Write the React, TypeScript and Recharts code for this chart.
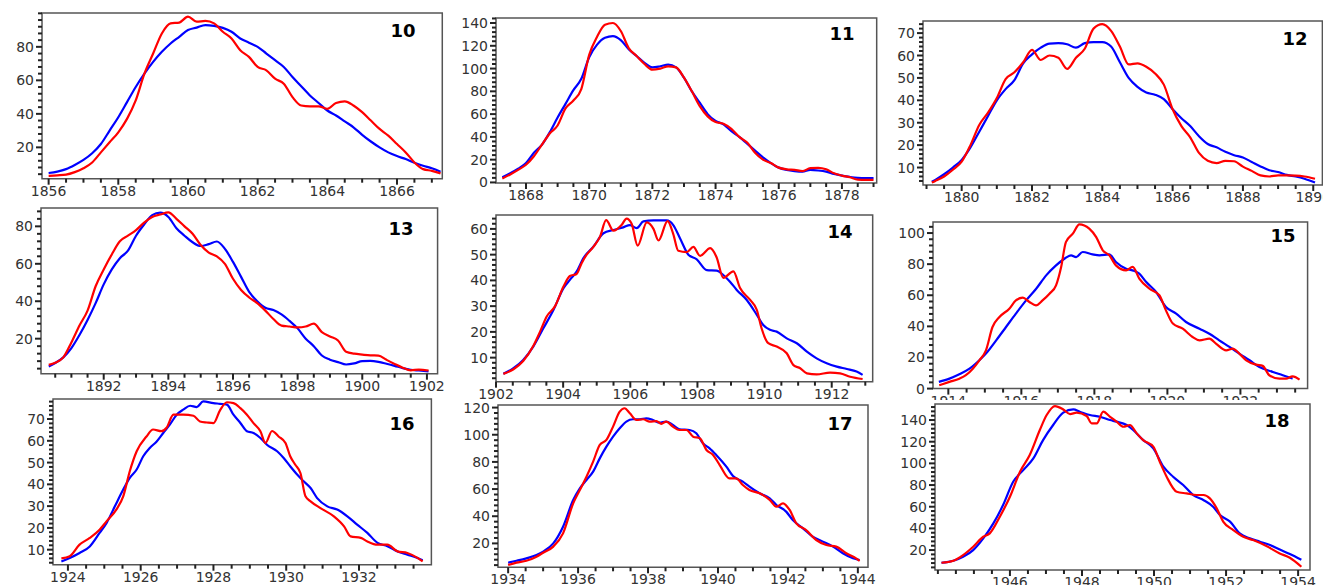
import React from 'react';
import { LineChart, Line, XAxis, YAxis, ReferenceArea } from 'recharts';

// ---------- Panel 10 ----------
const p10Years = [1856, 1856.25, 1856.5, 1856.75, 1857, 1857.25, 1857.5, 1857.75, 1858, 1858.25, 1858.5, 1858.75, 1859, 1859.25, 1859.5, 1859.75, 1860, 1860.25, 1860.5, 1860.75, 1861, 1861.25, 1861.5, 1861.75, 1862, 1862.25, 1862.5, 1862.75, 1863, 1863.25, 1863.5, 1863.75, 1864, 1864.25, 1864.5, 1864.75, 1865, 1865.25, 1865.5, 1865.75, 1866, 1866.25, 1866.5, 1866.75, 1867, 1867.25];
const p10Red = [3, 3.3, 3.7, 5.2, 7.5, 11, 17, 23, 29, 37, 48, 64, 76, 88, 94, 94.5, 98, 95, 95.5, 94, 89, 85, 78, 74, 68, 66, 61, 58, 50, 45, 44.5, 44.5, 43, 46.5, 47.5, 45, 41, 36, 31, 27, 22, 17, 11, 7, 6, 4.5];
const p10Blue = [4.7, 5.5, 7, 9.5, 12.5, 16.5, 22, 30, 38, 47, 56, 64, 71, 77, 82, 86, 90, 91.5, 93, 92.5, 91.3, 89, 85, 82.5, 80, 76, 72, 68, 62, 56.5, 51, 46.5, 42, 39, 35.5, 32, 27.5, 23.5, 20, 17, 14.8, 13, 10.8, 9, 7.5, 5.5];

// ---------- Panel 11 ----------
const p11Years = [1867.25, 1867.5, 1867.75, 1868, 1868.25, 1868.5, 1868.75, 1869, 1869.25, 1869.5, 1869.75, 1870, 1870.25, 1870.5, 1870.75, 1871, 1871.25, 1871.5, 1871.75, 1872, 1872.25, 1872.5, 1872.75, 1873, 1873.25, 1873.5, 1873.75, 1874, 1874.25, 1874.5, 1874.75, 1875, 1875.25, 1875.5, 1875.75, 1876, 1876.25, 1876.5, 1876.75, 1877, 1877.25, 1877.5, 1877.75, 1878, 1878.25, 1878.5, 1878.75, 1879];
const p11Red = [3.5, 7, 11, 15.5, 23, 33, 43, 50, 65, 72, 82, 112, 128, 138.5, 140, 133, 118, 111, 104, 99, 100, 102, 101, 92, 80, 67, 58, 53, 51.5, 47, 40, 35, 26, 20, 17, 13, 11.5, 11, 10, 12.5, 12.8, 11.5, 8, 6, 4.5, 2.5, 2.3, 2.3];
const p11Blue = [4.5, 8, 12, 17, 26, 33, 44, 57, 69, 81, 91, 110, 121, 127, 128.5, 125, 117, 111, 105, 101, 102, 103.5, 101, 92, 80, 70, 60, 54, 51, 45, 40, 34, 28, 22, 17, 13, 11, 10, 9.5, 11, 10.5, 9.5, 7.5, 6, 4.8, 4, 3.8, 3.8];

// ---------- Panel 12 ----------
const p12Years = [1879.15, 1879.25, 1879.5, 1879.75, 1880, 1880.25, 1880.5, 1880.75, 1881, 1881.25, 1881.5, 1881.75, 1882, 1882.25, 1882.5, 1882.75, 1883, 1883.25, 1883.5, 1883.75, 1884, 1884.25, 1884.5, 1884.75, 1885, 1885.25, 1885.5, 1885.75, 1886, 1886.25, 1886.5, 1886.75, 1887, 1887.25, 1887.5, 1887.75, 1888, 1888.25, 1888.5, 1888.75, 1889, 1889.25, 1889.5, 1889.75, 1890.05];
const p12Red = [3.3, 4, 6, 9, 12.6, 20, 29, 34.5, 41, 49.5, 52.5, 57, 62.5, 58, 60, 59, 54, 59, 63, 72, 74, 71, 64, 56, 56.5, 55, 52, 47, 36, 28.5, 23.5, 16.5, 13, 12, 13, 12.8, 10.4, 8.5, 6.5, 6, 6.5, 6.5, 6.4, 6, 5];
const p12Blue = [3.7, 4.5, 7, 10, 13.4, 19, 26, 33, 40, 45, 49, 56.5, 60.5, 63.5, 65.3, 65.5, 65, 63.5, 65.5, 66, 66, 64, 57, 50, 46, 43.5, 42.5, 40.5, 36, 32, 28.5, 24, 20.5, 19, 17, 15.5, 14.5, 12.5, 10.5, 8.8, 8, 6.7, 6, 5, 3.3];

// ---------- Panel 13 ----------
const p13Years = [1890.3, 1890.5, 1890.75, 1891, 1891.25, 1891.5, 1891.75, 1892, 1892.25, 1892.5, 1892.75, 1893, 1893.25, 1893.5, 1893.75, 1894, 1894.25, 1894.5, 1894.75, 1895, 1895.25, 1895.5, 1895.75, 1896, 1896.25, 1896.5, 1896.75, 1897, 1897.25, 1897.5, 1897.75, 1898, 1898.25, 1898.5, 1898.75, 1899, 1899.25, 1899.5, 1899.75, 1900, 1900.25, 1900.5, 1900.75, 1901, 1901.25, 1901.5, 1901.75, 1902.05];
const p13Red = [6, 7.2, 10, 18, 27, 35, 48, 57, 65, 72, 75, 78, 82, 85, 86.3, 87.5, 84, 80, 76, 70, 66, 64, 60, 52, 46, 42, 39, 35, 30.5, 27, 26.5, 26, 26.5, 28, 23.5, 21.2, 19, 13, 12, 11.5, 11.1, 11, 8.7, 6.5, 4.5, 3.1, 3.5, 3];
const p13Blue = [5.2, 7, 10, 15, 22, 30, 39, 49, 57, 63, 67, 75, 81, 86, 87.3, 85, 79, 75, 71.5, 69.5, 70.5, 71.9, 68, 61, 53, 45, 40, 36.5, 35.3, 33, 29.5, 25.5, 20, 16, 11, 8.8, 7.5, 6.2, 6.8, 8, 8.1, 7.6, 6.6, 5.5, 4.3, 3.4, 3, 2.5];

// ---------- Panel 14 ----------
const p14RedYears = [1902.22, 1902.52, 1902.81, 1903.11, 1903.31, 1903.51, 1903.76, 1904.01, 1904.2, 1904.4, 1904.55, 1904.7, 1904.9, 1905.1, 1905.28, 1905.5, 1905.74, 1905.89, 1906.04, 1906.22, 1906.49, 1906.69, 1906.84, 1907.11, 1907.28, 1907.43, 1907.68, 1907.88, 1908.08, 1908.38, 1908.57, 1908.77, 1909.07, 1909.27, 1909.57, 1909.77, 1909.91, 1910.11, 1910.36, 1910.66, 1910.86, 1911.06, 1911.26, 1911.55, 1911.95, 1912.25, 1912.55, 1912.92];
const p14Red = [3.7, 5.5, 8.7, 14.5, 20, 26, 30, 37.6, 41.7, 42.5, 46.7, 50, 53, 57, 63.4, 59.3, 61.5, 64, 62, 53.5, 62.5, 60, 55.5, 63, 58, 51.5, 51, 53, 49.5, 52.5, 49, 41, 43.5, 37, 32.4, 28.5, 21.4, 15.6, 14.3, 11.7, 7.1, 5.9, 3.9, 3.5, 4.2, 3.9, 2.6, 1.7];
const p14BlueYears = [1902.22, 1902.52, 1902.81, 1903.11, 1903.41, 1903.71, 1904.01, 1904.2, 1904.4, 1904.6, 1904.9, 1905.2, 1905.5, 1905.79, 1905.99, 1906.19, 1906.39, 1906.69, 1907.08, 1907.28, 1907.48, 1907.73, 1907.98, 1908.28, 1908.57, 1908.77, 1908.97, 1909.17, 1909.47, 1909.77, 1909.96, 1910.16, 1910.36, 1910.66, 1910.96, 1911.26, 1911.55, 1911.85, 1912.15, 1912.45, 1912.74, 1912.92];
const p14Blue = [3.7, 5.9, 9.1, 14.3, 21.4, 28.5, 37, 40.2, 43.4, 48.6, 53.1, 58.3, 59.6, 60.6, 61.5, 60.3, 62.9, 63.3, 63.3, 61.5, 56.4, 50, 48.2, 44, 43.8, 42.1, 39.5, 36.3, 32.4, 26.6, 22.7, 20.8, 20.1, 17.5, 15.6, 12.3, 9.7, 7.8, 6.5, 5.6, 4.6, 3.3];

// ---------- Panel 15 ----------
const p15RedYears = [1913.75, 1914.03, 1914.3, 1914.48, 1914.67, 1914.85, 1915.03, 1915.21, 1915.4, 1915.67, 1915.85, 1916.04, 1916.22, 1916.4, 1916.58, 1916.77, 1916.95, 1917.09, 1917.22, 1917.41, 1917.59, 1917.86, 1918.05, 1918.23, 1918.41, 1918.59, 1918.87, 1919.05, 1919.23, 1919.51, 1919.78, 1919.96, 1920.15, 1920.42, 1920.69, 1920.88, 1921.15, 1921.33, 1921.61, 1921.79, 1921.97, 1922.16, 1922.43, 1922.61, 1922.79, 1923.07, 1923.25, 1923.43, 1923.62];
const p15Red = [2.1, 4.3, 6.4, 8.6, 12.8, 18.2, 24.6, 39.6, 46, 51.4, 56.7, 58.5, 55.7, 53.5, 56.7, 61, 66.4, 78.2, 94.2, 99.6, 105.6, 102.8, 97.4, 88.9, 85.7, 79.2, 76, 78.2, 70.7, 64.2, 60, 50.3, 41.8, 38.5, 33.2, 31, 32.1, 28.9, 24.6, 25.7, 22.5, 18.2, 15.4, 14.6, 8.6, 6.4, 6.4, 7.9, 5.8];
const p15BlueYears = [1913.74, 1914.03, 1914.3, 1914.58, 1914.85, 1915.03, 1915.31, 1915.58, 1915.85, 1916.13, 1916.4, 1916.68, 1916.95, 1917.18, 1917.36, 1917.5, 1917.68, 1917.95, 1918.14, 1918.41, 1918.59, 1918.87, 1919.05, 1919.23, 1919.42, 1919.69, 1919.96, 1920.24, 1920.51, 1920.88, 1921.15, 1921.42, 1921.7, 1921.97, 1922.25, 1922.52, 1922.89, 1923.16, 1923.43];
const p15Blue = [4.3, 6.4, 9.2, 12.8, 18.2, 22.5, 31, 39.6, 48.2, 56.7, 64, 72.8, 79.2, 83.5, 85.7, 84.5, 87.8, 86.3, 85.7, 86.3, 81.4, 77.1, 76, 73.9, 68.5, 62.1, 52.5, 48.2, 42.8, 38.5, 35.3, 31, 26.8, 22.5, 18.2, 13.9, 10.7, 8.6, 6.4];

// ---------- Panel 16 ----------
const p16RedYears = [1923.82, 1924.05, 1924.32, 1924.6, 1924.87, 1925.06, 1925.33, 1925.52, 1925.7, 1925.89, 1926.16, 1926.34, 1926.57, 1926.71, 1926.9, 1927.17, 1927.45, 1927.63, 1927.82, 1928, 1928.18, 1928.37, 1928.55, 1928.74, 1928.92, 1929.1, 1929.29, 1929.43, 1929.61, 1929.79, 1929.98, 1930.11, 1930.25, 1930.39, 1930.53, 1930.67, 1930.94, 1931.31, 1931.59, 1931.77, 1932.05, 1932.23, 1932.51, 1932.78, 1933.06, 1933.33, 1933.61, 1933.75];
const p16Red = [6, 7, 12.3, 15.4, 19.2, 23, 28.4, 34.5, 46, 55.2, 62, 65.2, 64.4, 66, 72, 72, 71.5, 68.9, 68.4, 68.1, 74, 77.7, 77.3, 75, 72, 68.1, 64.4, 59, 64.5, 62, 59, 52.9, 49, 45.2, 34.5, 32.2, 29.1, 25.3, 20.7, 16.1, 15.4, 13.8, 12.3, 12.3, 9.2, 8.5, 6.2, 4.6];
const p16BlueYears = [1923.82, 1924.05, 1924.32, 1924.6, 1924.87, 1925.06, 1925.29, 1925.52, 1925.7, 1925.89, 1926.07, 1926.25, 1926.44, 1926.62, 1926.8, 1926.99, 1927.17, 1927.36, 1927.54, 1927.72, 1928, 1928.18, 1928.37, 1928.55, 1928.74, 1928.92, 1929.1, 1929.29, 1929.47, 1929.75, 1929.93, 1930.11, 1930.3, 1930.48, 1930.67, 1930.85, 1931.13, 1931.4, 1931.68, 1931.95, 1932.23, 1932.51, 1932.78, 1933.06, 1933.33, 1933.61, 1933.75];
const p16Blue = [4.6, 6.2, 8.5, 11.5, 17.7, 22.2, 29.9, 37.6, 43, 46.8, 52.9, 56.7, 59.7, 63.6, 67.4, 72, 74.3, 76.1, 75.5, 78.1, 77.3, 77, 76.6, 72, 68.2, 64.4, 63.6, 61.3, 58.2, 55.2, 52.1, 48.3, 44.5, 41.4, 38.3, 33.7, 29.9, 28.4, 25.3, 21.5, 17.7, 13.1, 11.6, 9.2, 7.7, 6.2, 5.1];

// ---------- Panel 17 ----------
const p17RedYears = [1934, 1934.24, 1934.52, 1934.81, 1935, 1935.29, 1935.57, 1935.86, 1936.05, 1936.24, 1936.43, 1936.62, 1936.81, 1937, 1937.19, 1937.33, 1937.48, 1937.67, 1937.86, 1938.05, 1938.24, 1938.38, 1938.52, 1938.71, 1938.9, 1939.1, 1939.29, 1939.48, 1939.67, 1939.86, 1940.05, 1940.33, 1940.52, 1940.71, 1940.9, 1941.19, 1941.48, 1941.67, 1941.86, 1942.05, 1942.24, 1942.52, 1942.81, 1943.1, 1943.38, 1943.67, 1943.95, 1944.05];
const p17Red = [4.1, 5.8, 7.2, 10.2, 13.1, 17.6, 27.4, 49.5, 59.3, 69.1, 80.2, 92.5, 96.2, 106, 117, 119.5, 115.8, 110.9, 111.4, 109.7, 110.1, 108, 109.7, 106, 103.5, 103.5, 98.6, 97.4, 88.8, 85.1, 77.7, 67.9, 67.9, 63, 59.3, 56.9, 52, 47, 49.5, 44.6, 34.8, 29.8, 22.5, 18.8, 17.6, 12.7, 9, 7.2];
const p17BlueYears = [1934, 1934.24, 1934.52, 1934.81, 1935, 1935.29, 1935.57, 1935.86, 1936.05, 1936.24, 1936.43, 1936.62, 1936.81, 1937, 1937.19, 1937.38, 1937.57, 1937.76, 1937.95, 1938.14, 1938.33, 1938.52, 1938.71, 1938.9, 1939.19, 1939.38, 1939.57, 1939.76, 1939.95, 1940.24, 1940.43, 1940.71, 1940.9, 1941.19, 1941.48, 1941.67, 1941.95, 1942.14, 1942.43, 1942.71, 1943, 1943.29, 1943.57, 1943.86, 1944.05];
const p17Blue = [5.8, 7.2, 9, 11.4, 13.9, 20, 32.3, 51.9, 60.5, 66.7, 72.8, 82.6, 91.2, 98.6, 104.8, 109.7, 111.4, 111.4, 112.1, 110.9, 108.9, 109.7, 107.2, 104, 103.5, 101.1, 93.7, 90, 85.1, 76.5, 69.6, 65.5, 61.8, 56.9, 53.2, 48.3, 43.4, 37.2, 31.1, 24.9, 21.3, 17.6, 12.7, 9, 7.7];

// ---------- Panel 18 ----------
const p18RedYears = [1944.1, 1944.43, 1944.7, 1944.98, 1945.26, 1945.44, 1945.72, 1946, 1946.28, 1946.55, 1946.83, 1947.02, 1947.25, 1947.48, 1947.67, 1947.85, 1948.13, 1948.27, 1948.41, 1948.59, 1948.78, 1948.96, 1949.15, 1949.33, 1949.52, 1949.7, 1949.98, 1950.16, 1950.35, 1950.63, 1950.9, 1951.18, 1951.37, 1951.55, 1951.74, 1951.92, 1952.2, 1952.48, 1952.75, 1953.12, 1953.49, 1953.77, 1954.09];
const p18Red = [8.3, 10.2, 15.4, 23.1, 32.3, 35.4, 50.8, 69.2, 92.3, 107.7, 130.8, 144.6, 152.9, 149.8, 145.5, 146.8, 143.7, 136.9, 136.9, 147.7, 143, 138.5, 133.8, 135.4, 127.7, 121.5, 115.4, 101.5, 87.7, 73.8, 72.3, 70.8, 70.8, 67.7, 58.5, 46.2, 38.5, 32.3, 29.2, 23.7, 16.9, 12.9, 4.6];
const p18BlueYears = [1944.1, 1944.43, 1944.7, 1944.98, 1945.26, 1945.54, 1945.81, 1946.09, 1946.37, 1946.65, 1946.92, 1947.2, 1947.48, 1947.76, 1947.94, 1948.22, 1948.5, 1948.78, 1948.96, 1949.24, 1949.42, 1949.7, 1949.98, 1950.26, 1950.53, 1950.81, 1951.09, 1951.37, 1951.64, 1951.83, 1952.11, 1952.38, 1952.66, 1952.94, 1953.22, 1953.49, 1953.77, 1954.09];
const p18Blue = [8.3, 10.2, 13.8, 20, 30.8, 44.6, 61.5, 83, 93.8, 104.6, 121.5, 135.4, 146.8, 149.8, 147.7, 144.6, 143, 140, 138.5, 135.4, 130.8, 121.5, 113.8, 96.9, 87.7, 80, 70.8, 66.2, 60, 52.3, 46.2, 35.4, 30.8, 27.7, 24.6, 20.6, 16.3, 11];

// ---------- Tick labels ----------
const p10XTicks = [1856, 1858, 1860, 1862, 1864, 1866];
const p11XTicks = [1868, 1870, 1872, 1874, 1876, 1878];
const p12XTicks = [1880, 1882, 1884, 1886, 1888, 1890];
const p13XTicks = [1892, 1894, 1896, 1898, 1900, 1902];
const p14XTicks = [1902, 1904, 1906, 1908, 1910, 1912];
const p15XTicks = [1914, 1916, 1918, 1920, 1922];
const p16XTicks = [1924, 1926, 1928, 1930, 1932];
const p17XTicks = [1934, 1936, 1938, 1940, 1942, 1944];
const p18XTicks = [1946, 1948, 1950, 1952, 1954];
const yTicks20to80 = [20, 40, 60, 80];
const yTicks0to140 = [0, 20, 40, 60, 80, 100, 120, 140];
const yTicks10to70 = [10, 20, 30, 40, 50, 60, 70];
const yTicks10to60 = [10, 20, 30, 40, 50, 60];
const yTicks0to100 = [0, 20, 40, 60, 80, 100];
const yTicks20to120 = [20, 40, 60, 80, 100, 120];
const yTicks20to140 = [20, 40, 60, 80, 100, 120, 140];
const panelLabels = ['10', '11', '12', '13', '14', '15', '16', '17', '18'];

type Pt = { x: number; y: number };
const pts = (xs: number[], ys: number[]): Pt[] => xs.map((x, i) => ({ x, y: ys[i] }));

type Panel = {
  label: string;
  box: [number, number, number, number];
  xDomain: [number, number];
  yDomain: [number, number];
  xTicks: number[];
  yTicks: number[];
  yMinor: number;
  red: Pt[];
  blue: Pt[];
  labelPos: [number, number];
  bg?: boolean;
};

const panels: Panel[] = [
  { label: panelLabels[0], box: [41.7, 13.3, 442, 179], xDomain: [1855.81, 1867.3], yDomain: [1.3, 100.2], xTicks: p10XTicks, yTicks: yTicks20to80, yMinor: 4, red: pts(p10Years, p10Red), blue: pts(p10Years, p10Blue), labelPos: [403, 37] },
  { label: panelLabels[1], box: [496, 18.3, 876.7, 183.3], xDomain: [1867.05, 1879.1], yDomain: [-0.5, 144.4], xTicks: p11XTicks, yTicks: yTicks0to140, yMinor: 4, red: pts(p11Years, p11Red), blue: pts(p11Years, p11Blue), labelPos: [842, 39.5] },
  { label: panelLabels[2], box: [923.3, 21, 1322.7, 185], xDomain: [1878.9, 1890.26], yDomain: [2.2, 75.4], xTicks: p12XTicks, yTicks: yTicks10to70, yMinor: 2, red: pts(p12Years, p12Red), blue: pts(p12Years, p12Blue), labelPos: [1295, 44.5] },
  { label: panelLabels[3], box: [40.7, 208.3, 437.3, 374], xDomain: [1890.06, 1902.33], yDomain: [1.3, 89.8], xTicks: p13XTicks, yTicks: yTicks20to80, yMinor: 4, red: pts(p13Years, p13Red), blue: pts(p13Years, p13Blue), labelPos: [401, 234.5] },
  { label: panelLabels[4], box: [496, 215, 872.7, 381.7], xDomain: [1902.0, 1913.22], yDomain: [0.66, 65.4], xTicks: p14XTicks, yTicks: yTicks10to60, yMinor: 2, red: pts(p14RedYears, p14Red), blue: pts(p14BlueYears, p14Blue), labelPos: [840, 238] },
  { label: panelLabels[5], box: [932.7, 221.7, 1307.3, 388.3], xDomain: [1913.58, 1923.84], yDomain: [0, 107.1], xTicks: p15XTicks, yTicks: yTicks0to100, yMinor: 4, red: pts(p15RedYears, p15Red), blue: pts(p15BlueYears, p15Blue), labelPos: [1283, 242] },
  { label: panelLabels[6], box: [53.3, 399.3, 431.7, 565], xDomain: [1923.59, 1933.99], yDomain: [3.1, 79.2], xTicks: p16XTicks, yTicks: yTicks10to70, yMinor: 2, red: pts(p16RedYears, p16Red), blue: pts(p16BlueYears, p16Blue), labelPos: [402, 429.5] },
  { label: panelLabels[7], box: [498.3, 405, 868.3, 567.3], xDomain: [1933.71, 1944.29], yDomain: [2.4, 121.9], xTicks: p17XTicks, yTicks: yTicks20to120, yMinor: 4, red: pts(p17RedYears, p17Red), blue: pts(p17BlueYears, p17Blue), labelPos: [840, 429.5] },
  { label: panelLabels[8], box: [935, 404, 1310, 570], xDomain: [1943.92, 1954.33], yDomain: [1.6, 154.8], xTicks: p18XTicks, yTicks: yTicks20to140, yMinor: 4, red: pts(p18RedYears, p18Red), blue: pts(p18BlueYears, p18Blue), labelPos: [1277, 427], bg: true },
];

const FONT = 'DejaVu Sans';
const ML = 50, MT = 4, MR = 30, MB = 26;
const MAJOR_LEN = 6, MINOR_LEN = 4;
const TICK_COLOR = '#222';
const TEXT_COLOR = '#333';
const FRAME_COLOR = '#555';

const isIn = (arr: number[], v: number) => arr.some((m) => Math.abs(m - v) < 1e-6);

const minorRange = (d: [number, number], step: number) => {
  const out: number[] = [];
  const k0 = Math.ceil(d[0] / step - 1e-9);
  const k1 = Math.floor(d[1] / step + 1e-9);
  for (let k = k0; k <= k1; k++) out.push(Math.round(k * step * 1000) / 1000);
  return out;
};

const makeXTick = (majors: number[]) => (props: any) => {
  const x = Number(props.x);
  const y = Number(props.y);
  const v = Number(props.payload.value);
  const major = isIn(majors, v);
  return (
    <g>
      <line x1={x} y1={y} x2={x} y2={y + (major ? MAJOR_LEN : MINOR_LEN)} stroke={TICK_COLOR} strokeWidth={2} />
      {major && (
        <text x={x} y={y + 17} textAnchor="middle" fontSize={14} fontFamily={FONT} fill={TEXT_COLOR}>
          {String(v)}
        </text>
      )}
    </g>
  );
};

const makeYTick = (majors: number[]) => (props: any) => {
  const x = Number(props.x);
  const y = Number(props.y);
  const v = Number(props.payload.value);
  const major = isIn(majors, v);
  return (
    <g>
      <line x1={x} y1={y} x2={x - (major ? MAJOR_LEN : MINOR_LEN)} y2={y} stroke={TICK_COLOR} strokeWidth={2} />
      {major && (
        <text x={x - 8} y={y + 5} textAnchor="end" fontSize={14} fontFamily={FONT} fill={TEXT_COLOR}>
          {String(v)}
        </text>
      )}
    </g>
  );
};

const PanelChart = ({ p }: { p: Panel }) => {
  const [l, t, r, b] = p.box;
  const w = r - l + ML + MR;
  const h = b - t + MT + MB;
  const xAll = minorRange(p.xDomain, 0.5);
  const yAll = minorRange(p.yDomain, p.yMinor);
  return (
    <div
      style={{
        position: 'absolute',
        left: l - ML,
        top: t - MT,
        width: w,
        height: h,
        background: p.bg ? '#fff' : 'transparent',
      }}
    >
      <LineChart width={w} height={h} margin={{ top: MT, right: MR, bottom: 0, left: 0 }}>
        <XAxis
          type="number"
          dataKey="x"
          domain={p.xDomain}
          allowDataOverflow
          ticks={xAll}
          interval={0}
          tickSize={0}
          tickMargin={0}
          axisLine={false}
          tickLine={false}
          tick={makeXTick(p.xTicks)}
          height={MB}
        />
        <YAxis
          type="number"
          domain={p.yDomain}
          allowDataOverflow
          ticks={yAll}
          interval={0}
          tickSize={0}
          tickMargin={0}
          axisLine={false}
          tickLine={false}
          tick={makeYTick(p.yTicks)}
          width={ML}
        />
        <ReferenceArea
          x1={p.xDomain[0]}
          x2={p.xDomain[1]}
          y1={p.yDomain[0]}
          y2={p.yDomain[1]}
          fill="none"
          fillOpacity={0}
          stroke={FRAME_COLOR}
          strokeWidth={1.5}
          ifOverflow="visible"
        />
        <Line
          data={p.blue}
          dataKey="y"
          type="monotone"
          stroke="#0000ff"
          strokeWidth={2.2}
          dot={false}
          activeDot={false}
          isAnimationActive={false}
        />
        <Line
          data={p.red}
          dataKey="y"
          type="monotone"
          stroke="#ff0000"
          strokeWidth={2.2}
          dot={false}
          activeDot={false}
          isAnimationActive={false}
        />
      </LineChart>
    </div>
  );
};

export default function App() {
  return (
    <div
      style={{
        position: 'absolute',
        left: 0,
        top: 0,
        width: 1323,
        height: 585,
        background: '#fff',
        overflow: 'hidden',
        fontFamily: FONT,
      }}
    >
      {panels.map((p) => (
        <PanelChart key={p.label} p={p} />
      ))}
      <svg width={1323} height={585} style={{ position: 'absolute', left: 0, top: 0, pointerEvents: 'none' }}>
        {panels.map((p) => (
          <text
            key={p.label}
            x={p.labelPos[0]}
            y={p.labelPos[1]}
            textAnchor="middle"
            fontSize={18}
            fontWeight="bold"
            fontFamily={FONT}
            fill="#000"
          >
            {p.label}
          </text>
        ))}
      </svg>
    </div>
  );
}
